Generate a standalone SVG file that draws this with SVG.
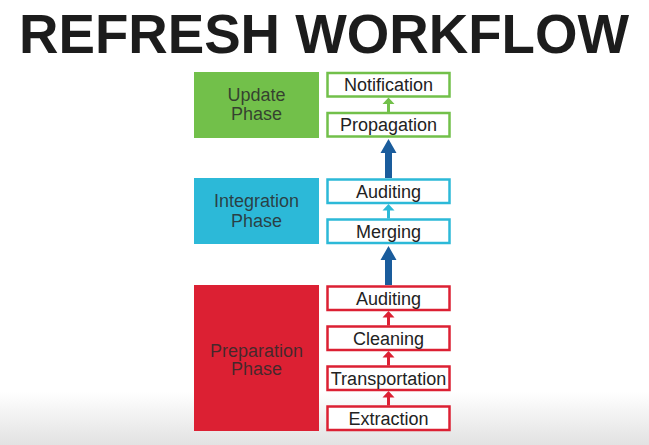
<svg xmlns="http://www.w3.org/2000/svg" width="649" height="445" viewBox="0 0 649 445">
<defs>
<linearGradient id="bg" x1="0" y1="0" x2="0" y2="1">
<stop offset="0" stop-color="#ffffff"/>
<stop offset="0.88" stop-color="#ffffff"/>
<stop offset="1" stop-color="#e2e2e2"/>
</linearGradient>
<style>
.title{font-family:"Liberation Sans",Arial,sans-serif;font-weight:bold;font-size:56px;fill:#1c1c1c}
.ph{font-family:"Liberation Sans",Arial,sans-serif;font-size:18px;fill:#2a2a2a;fill-opacity:0.85;text-anchor:middle}
.bt{font-family:"Liberation Sans",Arial,sans-serif;font-size:18px;fill:#222;text-anchor:middle}
.box{fill:#fff;stroke-width:2.5}
.g{stroke:#72c04a}.c{stroke:#2cb9d8}.r{stroke:#dc2033}
</style>
</defs>
<rect width="649" height="445" fill="url(#bg)"/>
<text class="title" x="19" y="53" textLength="610" lengthAdjust="spacingAndGlyphs">REFRESH WORKFLOW</text>

<g id="update-phase">
<rect x="194" y="72" width="125" height="66" fill="#72c04a"/>
<text class="ph" x="256.5" y="101">Update</text>
<text class="ph" x="256.5" y="120">Phase</text>
</g>
<g id="integration-phase">
<rect x="194" y="178" width="125" height="66" fill="#2cb9d8"/>
<text class="ph" x="256.5" y="207">Integration</text>
<text class="ph" x="256.5" y="226.5">Phase</text>
</g>
<g id="preparation-phase">
<rect x="194" y="285" width="125" height="146" fill="#dc2033"/>
<text class="ph" x="256.5" y="356.5">Preparation</text>
<text class="ph" x="256.5" y="375">Phase</text>
</g>

<g id="notification"><rect class="box g" x="327.5" y="73" width="122" height="23.5"/><text class="bt" x="388.5" y="91">Notification</text></g>
<g id="propagation"><rect class="box g" x="327.5" y="113" width="122" height="23.5"/><text class="bt" x="388.5" y="131">Propagation</text></g>
<g id="auditing-integration"><rect class="box c" x="327.5" y="179.5" width="122" height="23.5"/><text class="bt" x="388.5" y="197.5">Auditing</text></g>
<g id="merging"><rect class="box c" x="327.5" y="219.5" width="122" height="23.5"/><text class="bt" x="388.5" y="237.5">Merging</text></g>
<g id="auditing-preparation"><rect class="box r" x="327.5" y="286.5" width="122" height="23.5"/><text class="bt" x="388.5" y="304.5">Auditing</text></g>
<g id="cleaning"><rect class="box r" x="327.5" y="326.5" width="122" height="23.5"/><text class="bt" x="388.5" y="344.5">Cleaning</text></g>
<g id="transportation"><rect class="box r" x="327.5" y="366.5" width="122" height="23.5"/><text class="bt" x="388.5" y="384.5">Transportation</text></g>
<g id="extraction"><rect class="box r" x="327.5" y="406.5" width="122" height="23.5"/><text class="bt" x="388.5" y="424.5">Extraction</text></g>

<g id="connectors">
<path d="M387 112 V104 H382.5 L388.5 97.5 L394.5 104 H390 V112 Z" fill="#72c04a"/>
<path d="M387 218.5 V210.5 H382.5 L388.5 204 L394.5 210.5 H390 V218.5 Z" fill="#2cb9d8"/>
<path d="M387 325.5 V317.5 H382.5 L388.5 311 L394.5 317.5 H390 V325.5 Z" fill="#dc2033"/>
<path d="M387 365.5 V357.5 H382.5 L388.5 351 L394.5 357.5 H390 V365.5 Z" fill="#dc2033"/>
<path d="M387 405.5 V397.5 H382.5 L388.5 391 L394.5 397.5 H390 V405.5 Z" fill="#dc2033"/>
<path d="M385 178 V153 H380.5 L388.5 139 L396.5 153 H392 V178 Z" fill="#1a5c9c"/>
<path d="M385 285 V260 H380.5 L388.5 246 L396.5 260 H392 V285 Z" fill="#1a5c9c"/>
</g>
</svg>
